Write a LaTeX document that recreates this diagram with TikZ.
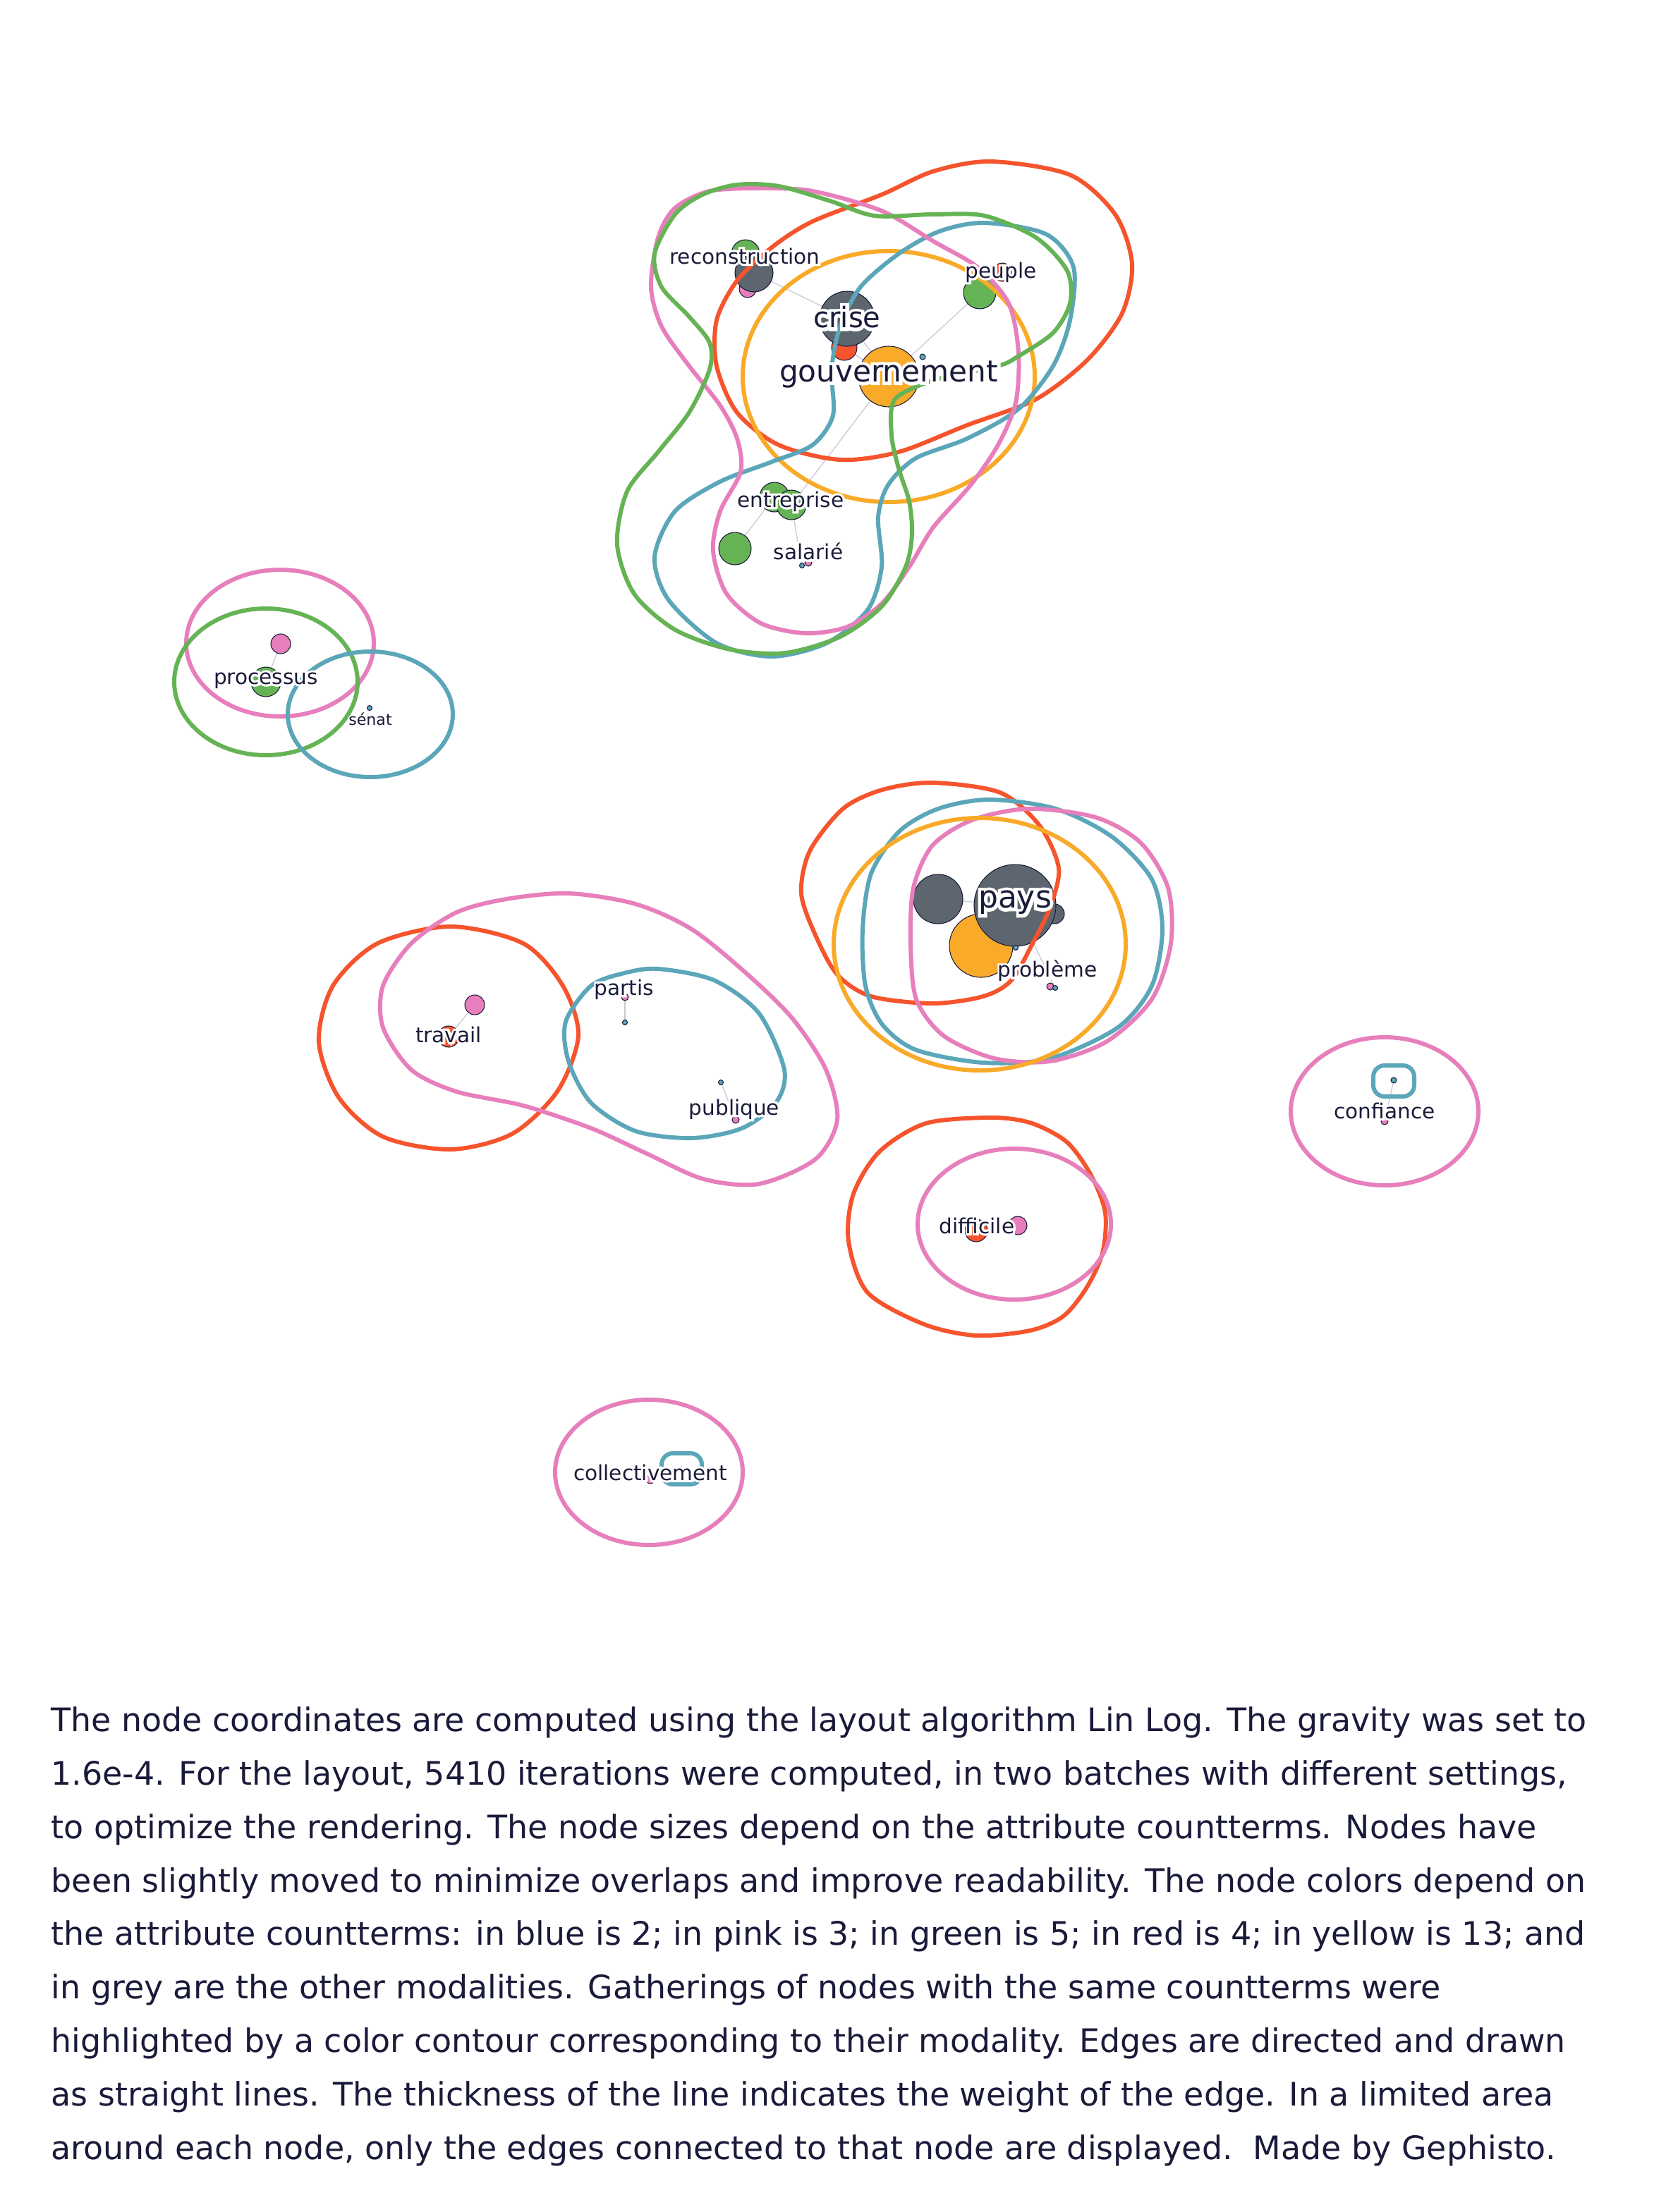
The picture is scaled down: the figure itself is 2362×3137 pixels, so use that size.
\documentclass[tikz,border=0pt]{standalone}
\usepackage{fontspec}
\setmainfont{DejaVu Sans}
\usepackage{tikz}
\usetikzlibrary{backgrounds}

\definecolor{ink}{HTML}{1A1A3A}
\definecolor{cblue}{HTML}{5BA6B9}
\definecolor{cpink}{HTML}{E77FBC}
\definecolor{cgreen}{HTML}{65B355}
\definecolor{cred}{HTML}{F5542D}
\definecolor{cyellow}{HTML}{F8AA28}
\definecolor{cgrey}{HTML}{5D656E}
\definecolor{edgegrey}{HTML}{C8C8D0}
% white stroked copy under the label text
\newcommand{\halo}[2][1.8]{\leavevmode\rlap{\special{pdf:literal direct 1 Tr 1 1 1 RG #1 w}#2\special{pdf:literal direct 0 Tr 0.4 w}}#2}

\begin{document}
\begin{tikzpicture}[
  x=0.1mm, y=-0.1mm,
  dot/.style={circle, draw=ink, line width=0.3pt, inner sep=0pt},
  edge/.style={draw=edgegrey, line width=0.35pt},
  hull/.style={line width=1.7pt, line join=round},
  lab/.style={text=ink, inner sep=0pt, font=\fontsize{8.4}{10}\selectfont},
  biglab/.style={lab, font=\fontsize{12}{14}\selectfont},
]
\useasboundingbox (0,0) rectangle (2362,3137);
% ---- top cluster: nodes ----
\node[dot, fill=cgreen, minimum size=4mm] (recg) at (1057,360) {};
\node[dot, fill=cpink, minimum size=2.4mm] (recp) at (1060,410) {};
\node[dot, fill=cgrey, minimum size=5.4mm] (rec) at (1069,387) {};
\node[dot, fill=cred, minimum size=3.6mm] (crisered) at (1197,493) {};
\node[dot, fill=cgrey, minimum size=7.8mm] (crise) at (1201,452) {};
\node[dot, fill=cyellow, minimum size=8.6mm] (gouv) at (1260,534) {};
\node[dot, fill=cblue, minimum size=0.8mm] (gouvb) at (1308,506) {};
\node[dot, fill=cred, minimum size=2.6mm] (peupler) at (1421,386) {};
\node[dot, fill=cgreen, minimum size=4.6mm] (peuple) at (1389,415) {};
\node[dot, fill=cgreen, minimum size=4.2mm] (entr1) at (1098,705) {};
\node[dot, fill=cgreen, minimum size=4.2mm] (entr) at (1122,716) {};
\node[dot, fill=cgreen, minimum size=4.6mm] (entrg) at (1042,778) {};
\node[dot, fill=cpink, minimum size=1mm] (salp) at (1146,798) {};
\node[dot, fill=cblue, minimum size=0.7mm] (sal) at (1137,802) {};
% ---- processus / senat ----
\node[dot, fill=cpink, minimum size=2.8mm] (procp) at (398,913) {};
\node[dot, fill=cgreen, minimum size=4.2mm] (proc) at (377,967) {};
\node[dot, fill=cblue, minimum size=0.7mm] (senat) at (524,1004) {};
% ---- pays cluster ----
\node[dot, fill=cgrey, minimum size=2.8mm] (paysr) at (1495,1296) {};
\node[dot, fill=cyellow, minimum size=9mm] (paysy) at (1391,1341) {};
\node[dot, fill=cgrey, minimum size=7mm] (paysl) at (1330,1275) {};
\node[dot, fill=cgrey, minimum size=11.6mm] (pays) at (1439,1284) {};
\node[dot, fill=cblue, minimum size=0.7mm] (paysb) at (1440,1344) {};
\node[dot, fill=cpink, minimum size=1mm] (probp) at (1489,1399) {};
\node[dot, fill=cblue, minimum size=0.7mm] (prob) at (1496,1401) {};
% ---- travail / partis / publique ----
\node[dot, fill=cpink, minimum size=2.8mm] (travp) at (673,1425) {};
\node[dot, fill=cred, minimum size=3mm] (trav) at (636,1470) {};
\node[dot, fill=cpink, minimum size=1mm] (partp) at (886,1414) {};
\node[dot, fill=cblue, minimum size=0.7mm] (part) at (886,1450) {};
\node[dot, fill=cblue, minimum size=0.7mm] (publ) at (1022,1535) {};
\node[dot, fill=cpink, minimum size=1mm] (publp) at (1043,1588) {};
% ---- difficile / confiance / collectivement ----
\node[dot, fill=cred, minimum size=3.2mm] (diff) at (1384,1745) {};
\node[dot, fill=cpink, minimum size=2.6mm] (diffp) at (1443,1738) {};
\node[dot, fill=cblue, minimum size=0.8mm] (conf) at (1976,1532) {};
\node[dot, fill=cpink, minimum size=1mm] (confp) at (1963,1590) {};
\node[dot, fill=cblue, minimum size=0.8mm] (coll) at (966,2084) {};
\node[dot, fill=cpink, minimum size=1.2mm] (collp) at (922,2098) {};
% ---- edges (under the nodes) ----
\begin{pgfonlayer}{background}
\fill[white] (0,0) rectangle (2362,3137);
\draw[edge] (rec.center) -- (crise.center);
\draw[edge] (crise.center) -- (gouv.center);
\draw[edge] (crisered.center) -- (gouv.center);
\draw[edge] (peuple.center) -- (gouv.center);
\draw[edge] (gouv.center) -- (entr.center);
\draw[edge] (entr1.center) -- (entrg.center);
\draw[edge] (entr.center) -- (sal.center);
\draw[edge] (procp.center) -- (proc.center);
\draw[edge] (paysl.center) -- (pays.center);
\draw[edge] (pays.center) -- (prob.center);
\draw[edge] (travp.center) -- (trav.center);
\draw[edge] (partp.center) -- (part.center);
\draw[edge] (publ.center) -- (publp.center);
\draw[edge] (conf.center) -- (confp.center);
\end{pgfonlayer}
% ---- contours, top cluster ----
\draw[hull, cred] plot[smooth cycle] coordinates {(1405,229) (1517,248) (1581,304) (1605,374) (1591,444) (1542,510) (1469,566) (1371,603) (1274,641) (1191,652) (1104,631) (1045,585) (1016,519) (1016,454) (1045,398) (1094,351) (1152,314) (1250,276) (1323,243)};
\draw[hull, cyellow] (1260,534) ellipse [x radius=207, y radius=178];
\draw[hull, cblue] plot[smooth cycle] coordinates {(1396,316) (1483,332) (1522,379) (1517,454) (1493,519) (1444,580) (1371,622) (1298,650) (1259,688) (1245,734) (1250,804) (1230,865) (1172,912) (1094,931) (1016,912) (948,851) (928,790) (957,725) (1021,683) (1094,655) (1152,631) (1181,589) (1179,524) (1191,463) (1220,407) (1274,360) (1332,328)};
\draw[hull, cpink] plot[smooth cycle] coordinates {(1006,271) (1079,267) (1152,271) (1250,299) (1323,342) (1386,379) (1430,430) (1444,500) (1440,571) (1415,631) (1376,688) (1323,748) (1289,804) (1250,856) (1201,889) (1142,898) (1079,884) (1030,842) (1011,781) (1021,725) (1050,669) (1045,622) (1021,575) (977,519) (938,463) (923,407) (933,337) (957,295)};
\draw[hull, cgreen] plot[smooth cycle] coordinates {(1045,262) (1104,264) (1177,285) (1240,306) (1323,304) (1396,306) (1469,337) (1513,384) (1517,430) (1493,472) (1444,505) (1415,519) (1328,538) (1269,566) (1264,617) (1274,664) (1289,711) (1293,758) (1284,804) (1250,860) (1191,903) (1113,926) (1035,921) (957,893) (899,842) (875,772) (889,697) (933,641) (977,585) (1006,524) (1006,486) (977,449) (938,407) (928,360) (957,304) (996,276)};
% ---- contours, processus ----
\draw[hull, cpink] (397,912) ellipse [x radius=133, y radius=104];
\draw[hull, cgreen] (377,967) ellipse [x radius=130, y radius=104];
\draw[hull, cblue] (525,1013) ellipse [x radius=117, y radius=89];
% ---- contours, pays ----
\draw[hull, cred] plot[smooth cycle] coordinates {(1322,1110) (1418,1124) (1474,1171) (1501,1231) (1489,1286) (1466,1334) (1434,1390) (1394,1413) (1322,1423) (1235,1413) (1187,1382) (1156,1326) (1136,1267) (1148,1207) (1195,1147) (1251,1120)};
\draw[hull, cblue] plot[smooth cycle] coordinates {(1402,1134) (1497,1147) (1577,1187) (1633,1247) (1648,1318) (1633,1398) (1585,1457) (1489,1501) (1394,1507) (1299,1489) (1251,1453) (1227,1398) (1223,1318) (1235,1239) (1275,1179) (1330,1147)};
\draw[hull, cpink] plot[smooth cycle] coordinates {(1458,1147) (1553,1159) (1617,1195) (1656,1259) (1660,1338) (1633,1417) (1569,1477) (1489,1505) (1410,1501) (1338,1469) (1299,1417) (1291,1338) (1295,1259) (1322,1199) (1378,1163)};
\draw[hull, cyellow] (1389,1339) ellipse [x radius=207, y radius=179];
% ---- contours, travail ----
\draw[hull, cred] plot[smooth cycle] coordinates {(639,1314) (742,1338) (798,1398) (820,1469) (790,1548) (726,1608) (639,1630) (543,1612) (480,1556) (452,1477) (472,1398) (535,1338)};
\draw[hull, cpink] plot[smooth cycle] coordinates {(806,1267) (901,1282) (981,1318) (1060,1382) (1124,1445) (1171,1517) (1187,1588) (1156,1644) (1076,1679) (997,1672) (917,1636) (838,1600) (742,1568) (647,1548) (583,1517) (543,1457) (543,1398) (583,1338) (647,1294) (718,1275)};
\draw[hull, cblue] plot[smooth cycle] coordinates {(933,1374) (1012,1390) (1076,1437) (1112,1517) (1100,1564) (1052,1600) (981,1614) (901,1604) (838,1564) (806,1505) (802,1449) (838,1398) (885,1380)};
% ---- contours, difficile / confiance / collectivement ----
\draw[hull, cred] plot[smooth cycle] coordinates {(1313,1593) (1407,1585) (1463,1593) (1513,1620) (1547,1667) (1567,1720) (1563,1777) (1540,1827) (1507,1867) (1460,1887) (1384,1894) (1310,1878) (1230,1833) (1203,1760) (1210,1693) (1247,1633)};
\draw[hull, cpink] (1438,1736) ellipse [x radius=137, y radius=107];
\draw[hull, cpink] (1963,1576) ellipse [x radius=133, y radius=105];
\draw[hull, cblue, rounded corners=1.6mm] (1947,1511) rectangle (2005,1555);
\draw[hull, cpink] (920,2088) ellipse [x radius=133, y radius=103];
\draw[hull, cblue, rounded corners=1.6mm] (938,2061) rectangle (995,2105);
% ---- labels ----
\node[lab] (lrec) at (1056,363) {\halo{reconstruction}};
\node[biglab, font=\fontsize{11.4}{13}\selectfont] (lcrise) at (1201,450) {\halo[2.6]{crise}};
\node[biglab] (lgouv) at (1260,531) {\halo[2.6]{gouvernement}};
\node[lab] (lpeuple) at (1419,386) {\halo{peuple}};
\node[lab] (lentr) at (1121,711) {\halo{entreprise}};
\node[lab] (lsal) at (1146,782) {\halo{salarié}};
\node[lab] (lproc) at (377,965) {\halo{processus}};
\node[lab, font=\fontsize{6.3}{8}\selectfont] (lsenat) at (525,1020) {\halo[1.3]{sénat}};
\node[biglab, font=\fontsize{12.5}{15}\selectfont] (lpays) at (1439,1280) {\halo[2.6]{pays}};
\node[lab] (lprob) at (1485,1377) {\halo{problème}};
\node[lab] (ltrav) at (636,1467) {\halo{travail}};
\node[lab] (lpart) at (885,1403) {\halo{partis}};
\node[lab] (lpubl) at (1041,1573) {\halo{publique}};
\node[lab] (ldiff) at (1385,1738) {\halo{difficile}};
\node[lab] (lconf) at (1963,1575) {\halo{confiance}};
\node[lab] (lcoll) at (922,2088) {\halo{collectivement}};
% ---- caption ----
\node[anchor=north west, inner sep=0pt, align=left, text=ink,
      font=\fontsize{13.05}{21.57}\selectfont] (caption) at (72,2420)
  {The node coordinates are computed using the layout algorithm Lin Log. The gravity was set to\\
   1.6e-4. For the layout, 5410 iterations were computed, in two batches with different settings,\\
   to optimize the rendering. The node sizes depend on the attribute countterms. Nodes have\\
   been slightly moved to minimize overlaps and improve readability. The node colors depend on\\
   the attribute countterms: in blue is 2; in pink is 3; in green is 5; in red is 4; in yellow is 13; and\\
   in grey are the other modalities. Gatherings of nodes with the same countterms were\\
   highlighted by a color contour corresponding to their modality. Edges are directed and drawn\\
   as straight lines. The thickness of the line indicates the weight of the edge. In a limited area\\
   around each node, only the edges connected to that node are displayed.\ \ Made by Gephisto.};
\end{tikzpicture}
\end{document}
